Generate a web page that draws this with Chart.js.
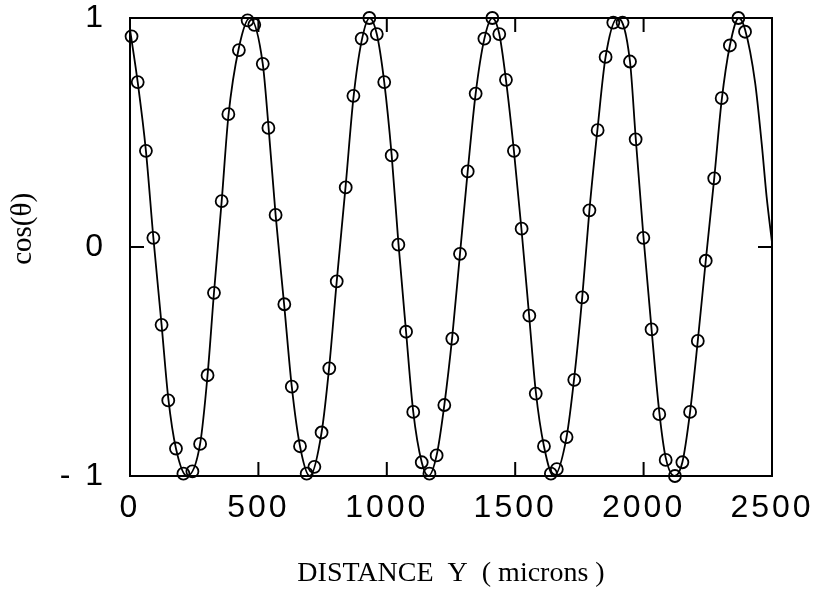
<!DOCTYPE html>
<html>
<head>
<meta charset="utf-8">
<title>cos(θ) vs distance</title>
<script src="https://cdn.jsdelivr.net/npm/chart.js@4.4.1/dist/chart.umd.min.js"></script>
<style>
  html, body { margin: 0; padding: 0; background: #fff; }
  #wrap { width: 815px; height: 591px; position: relative; }
</style>
</head>
<body>
<div id="wrap"><canvas id="cosChart"></canvas></div>
<script>
// measured points (distance in microns, cos(theta))
const dataX = [6, 30, 62, 91, 123, 149, 179, 208, 243, 273, 302, 327, 357, 383, 424, 458, 484,
  517, 539, 567, 601, 630, 662, 688, 718, 746, 776, 805, 840, 870, 902, 932, 961, 990, 1019,
  1045, 1075, 1103, 1136, 1166, 1194, 1224, 1255, 1285, 1315, 1346, 1380, 1411, 1438, 1464,
  1495, 1525, 1555, 1580, 1612, 1639, 1662, 1700, 1730, 1761, 1789, 1821, 1852, 1882, 1918,
  1947, 1969, 1999, 2031, 2061, 2086, 2122, 2151, 2181, 2211, 2242, 2275, 2304, 2336, 2369, 2395];
const dataY = [0.92, 0.72, 0.42, 0.04, -0.34, -0.67, -0.88, -0.99, -0.98, -0.86, -0.56, -0.20,
  0.20, 0.58, 0.86, 0.99, 0.97, 0.80, 0.52, 0.14, -0.25, -0.61, -0.87, -0.99, -0.96, -0.81,
  -0.53, -0.15, 0.26, 0.66, 0.91, 1.00, 0.93, 0.72, 0.40, 0.01, -0.37, -0.72, -0.94, -0.99,
  -0.91, -0.69, -0.40, -0.03, 0.33, 0.67, 0.91, 1.00, 0.93, 0.73, 0.42, 0.08, -0.30, -0.64,
  -0.87, -0.99, -0.97, -0.83, -0.58, -0.22, 0.16, 0.51, 0.83, 0.98, 0.98, 0.81, 0.47, 0.04,
  -0.36, -0.73, -0.93, -1.00, -0.94, -0.72, -0.41, -0.06, 0.30, 0.65, 0.88, 1.00, 0.94];

// fitted curve
const fitX = [0, 30, 62, 91, 123, 149, 179, 222, 273, 302, 327, 357, 383, 424, 466, 517, 539,
  567, 601, 630, 662, 700, 746, 776, 805, 840, 870, 902, 933, 961, 990, 1019, 1045, 1075, 1103,
  1136, 1162, 1194, 1224, 1255, 1285, 1315, 1346, 1380, 1411, 1438, 1464, 1495, 1525, 1555,
  1580, 1612, 1650, 1700, 1730, 1761, 1789, 1821, 1852, 1899, 1947, 1969, 1999, 2031, 2061,
  2086, 2121, 2151, 2181, 2211, 2242, 2275, 2304, 2336, 2371, 2395, 2434, 2460, 2479, 2500];
const fitY = [0.95, 0.72, 0.42, 0.04, -0.34, -0.66, -0.88, -1.00, -0.86, -0.56, -0.20, 0.20,
  0.57, 0.87, 1.00, 0.80, 0.53, 0.14, -0.26, -0.61, -0.87, -1.00, -0.81, -0.52, -0.15, 0.27,
  0.65, 0.90, 1.00, 0.93, 0.72, 0.40, 0.02, -0.37, -0.72, -0.94, -1.00, -0.91, -0.69, -0.39,
  -0.03, 0.33, 0.67, 0.91, 1.00, 0.93, 0.73, 0.42, 0.07, -0.31, -0.63, -0.87, -1.00, -0.83,
  -0.57, -0.22, 0.16, 0.52, 0.83, 1.00, 0.81, 0.48, 0.05, -0.36, -0.72, -0.92, -1.00, -0.94,
  -0.72, -0.41, -0.06, 0.30, 0.64, 0.88, 1.00, 0.95, 0.72, 0.45, 0.22, 0.02];

const xTicks = [0, 500, 1000, 1500, 2000, 2500];
const yTicks = [-1, 0, 1];
const xTitle = 'DISTANCE  Y  ( microns )';
const yTitle = 'cos(θ)';

const TICK_LEN = 14;

// box around the plot plus short inward tick marks on all four sides
const frameTicks = {
    id: 'frameTicks',
    beforeDatasetsDraw(chart) {
        const { ctx, chartArea: a, scales } = chart;
        ctx.save();
        ctx.strokeStyle = '#000';
        ctx.lineWidth = 2;
        ctx.strokeRect(a.left, a.top, a.right - a.left, a.bottom - a.top);
        ctx.beginPath();
        scales.x.ticks.forEach(t => {
            if (t.value <= scales.x.min || t.value >= scales.x.max) return;
            const px = scales.x.getPixelForValue(t.value);
            ctx.moveTo(px, a.bottom); ctx.lineTo(px, a.bottom - TICK_LEN);
            ctx.moveTo(px, a.top); ctx.lineTo(px, a.top + TICK_LEN);
        });
        scales.y.ticks.forEach(t => {
            if (t.value <= scales.y.min || t.value >= scales.y.max) return;
            const py = scales.y.getPixelForValue(t.value);
            ctx.moveTo(a.left, py); ctx.lineTo(a.left + TICK_LEN, py);
            ctx.moveTo(a.right, py); ctx.lineTo(a.right - TICK_LEN, py);
        });
        ctx.stroke();
        ctx.restore();
    },
    // tick labels are drawn in a later layer (ticks.z = 1), spread them out a little
    afterDatasetsDraw(chart) {
        chart.ctx.letterSpacing = '3px';
    },
    afterDraw(chart) {
        chart.ctx.letterSpacing = '0px';
    }
};

const tickFont = { family: '"Liberation Sans", Arial, sans-serif', size: 32 };
const titleFont = { family: '"Liberation Serif", "Times New Roman", serif', size: 28 };

new Chart(document.getElementById('cosChart'), {
    type: 'scatter',
    data: {
        datasets: [{
            label: 'fit',
            data: fitX.map((x, i) => ({ x, y: fitY[i] })),
            showLine: true,
            borderColor: '#000',
            borderWidth: 1.8,
            pointRadius: 0,
            cubicInterpolationMode: 'monotone',
            fill: false
        }, {
            label: 'measured',
            data: dataX.map((x, i) => ({ x, y: dataY[i] })),
            showLine: false,
            pointStyle: 'circle',
            pointRadius: 6,
            borderColor: '#000',
            borderWidth: 1.8,
            backgroundColor: 'rgba(0,0,0,0)',
            clip: false
        }]
    },
    options: {
        responsive: true,
        maintainAspectRatio: false,
        animation: false,
        events: [],
        layout: { padding: { top: 18, right: 43, bottom: 0, left: 0 } },
        plugins: {
            legend: { display: false },
            tooltip: { enabled: false }
        },
        scales: {
            x: {
                type: 'linear',
                min: xTicks[0],
                max: xTicks[xTicks.length - 1],
                afterBuildTicks: s => { s.ticks = xTicks.map(v => ({ value: v })); },
                ticks: {
                    font: tickFont, color: '#000', padding: 13, maxRotation: 0, autoSkip: false, z: 1,
                    callback: v => String(v)
                },
                grid: { display: false, drawTicks: false },
                border: { display: false },
                title: { display: true, text: xTitle, font: titleFont, color: '#000', padding: { top: 0, bottom: 1 } },
                afterFit: s => { s.height = 115; s.paddingLeft = 0; s.paddingRight = 0; }
            },
            y: {
                type: 'linear',
                min: yTicks[0],
                max: yTicks[yTicks.length - 1],
                afterBuildTicks: s => { s.ticks = yTicks.map(v => ({ value: v })); },
                ticks: {
                    font: tickFont, color: '#000', padding: 24, z: 1,
                    callback: v => (v < 0 ? '- ' + Math.abs(v) : String(v))
                },
                grid: { display: false, drawTicks: false },
                border: { display: false },
                title: {
                    display: true,
                    text: '\u00a0\u00a0\u00a0\u00a0\u00a0' + yTitle,
                    font: { family: titleFont.family, size: 29 },
                    color: '#000',
                    padding: { top: 6, bottom: 0 }
                },
                afterFit: s => { s.width = 130; s.paddingTop = 0; s.paddingBottom = 0; }
            }
        }
    },
    plugins: [frameTicks]
});
</script>
</body>
</html>
